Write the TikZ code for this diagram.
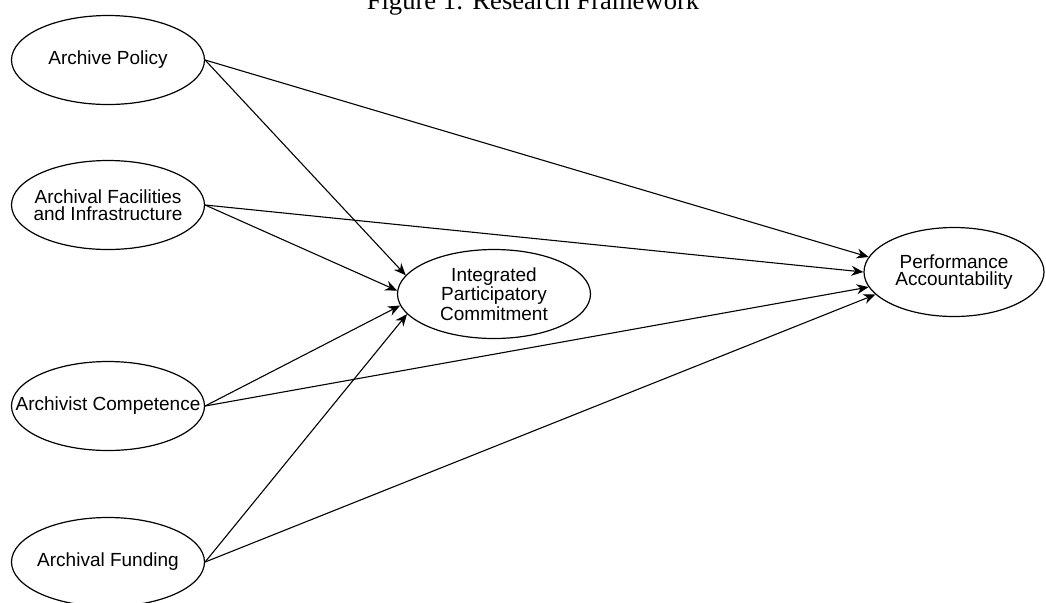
\documentclass[tikz,border=0pt]{standalone}
\usepackage{fontspec}
\setmainfont{Liberation Sans}
\newfontfamily\titlefont{Liberation Serif}
\usetikzlibrary{arrows.meta,shapes.geometric}

\tikzset{
  var/.style={draw, ellipse, line width=0.6pt, inner xsep=-40pt, inner ysep=-25pt, minimum width=96.5pt, minimum height=44.5pt, align=center, font=\fontsize{9.5}{8.7}\selectfont},
  path/.style={-{Stealth[length=6pt,width=5pt]}, line width=0.55pt}
}

\begin{document}
\begin{tikzpicture}[x=0.5pt,y=-0.5pt]

\useasboundingbox (0,0) rectangle (1046,602);

\node[anchor=base, font=\titlefont\fontsize{13.3}{15}\selectfont] (title) at (533,9) {Figure 1: Research Framework};

\node[var] (ap) at (108,60) {Archive Policy};
\node[var] (aff) at (108,205) {Archival Facilities\\and Infrastructure};
\node[var] (ac) at (108,406) {Archivist Competence};
\node[var] (afund) at (108,562) {Archival Funding};

\node[var] (ipc) at (494,294) {Integrated\\Participatory\\Commitment};
\node[var, minimum width=90pt] (pa) at (954,272) {Performance\\Accountability};

\draw[path] (ap.east) -- (ipc.168);
\draw[path] (aff.east) -- (ipc.178);
\draw[path] (ac.east) -- (ipc.187);
\draw[path] (afund.east) -- (ipc.193);

\draw[path] (ap.east) -- (pa.170);
\draw[path] (aff.east) -- (pa.180);
\draw[path] (ac.east) -- (pa.190);
\draw[path] (afund.east) -- (pa.196);

\end{tikzpicture}
\end{document}
